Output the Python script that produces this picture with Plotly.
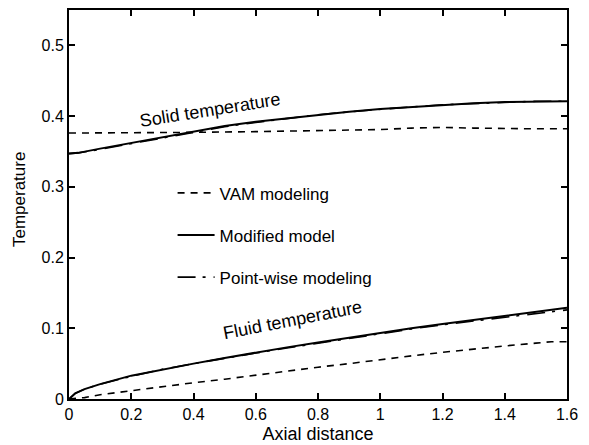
import plotly.graph_objects as go

# ---- data ----
x_mod_solid = [0, 0.03, 0.1, 0.2, 0.3, 0.4, 0.5, 0.6, 0.7, 0.8, 0.9, 1.0, 1.1, 1.2, 1.3, 1.4, 1.5, 1.6]
y_mod_solid = [0.347, 0.348, 0.354, 0.362, 0.370, 0.378, 0.386, 0.392, 0.397, 0.402, 0.406, 0.410,
               0.413, 0.416, 0.418, 0.420, 0.421, 0.421]
y_pw_solid = [0.347, 0.348, 0.353, 0.361, 0.370, 0.378, 0.385, 0.391, 0.397, 0.402, 0.406, 0.410,
              0.413, 0.416, 0.418, 0.420, 0.421, 0.421]

x_vam_solid = [0, 0.2, 0.4, 0.6, 0.8, 1.0, 1.1, 1.2, 1.3, 1.4, 1.5, 1.6]
y_vam_solid = [0.376, 0.376, 0.377, 0.378, 0.379, 0.381, 0.383, 0.384, 0.383, 0.382, 0.382, 0.382]

x_fluid = [0, 0.02, 0.05, 0.1, 0.2, 0.3, 0.4, 0.5, 0.6, 0.7, 0.8, 0.9, 1.0, 1.1, 1.2, 1.3, 1.4, 1.5, 1.6]
y_mod_fluid = [0, 0.008, 0.014, 0.021, 0.033, 0.042, 0.050, 0.058, 0.066, 0.073, 0.080, 0.087,
               0.094, 0.100, 0.106, 0.112, 0.118, 0.124, 0.129]
y_pw_fluid = [0, 0.008, 0.014, 0.021, 0.032, 0.042, 0.050, 0.058, 0.065, 0.072, 0.079, 0.086,
              0.093, 0.099, 0.105, 0.110, 0.116, 0.121, 0.126]

x_vam_fluid = [0, 0.05, 0.1, 0.2, 0.3, 0.4, 0.5, 0.6, 0.7, 0.8, 0.9, 1.0, 1.1, 1.2, 1.3, 1.4, 1.5, 1.55, 1.6]
y_vam_fluid = [0, 0.002, 0.006, 0.012, 0.018, 0.023, 0.028, 0.034, 0.040, 0.045, 0.050, 0.056,
               0.061, 0.066, 0.071, 0.075, 0.079, 0.081, 0.081]

x_ticks = [0, 0.2, 0.4, 0.6, 0.8, 1.0, 1.2, 1.4, 1.6]
x_tick_labels = ["0", "0.2", "0.4", "0.6", "0.8", "1", "1.2", "1.4", "1.6"]
y_ticks = [0, 0.1, 0.2, 0.3, 0.4, 0.5]
y_tick_labels = ["0", "0.1", "0.2", "0.3", "0.4", "0.5"]

FONT = "Arial, Liberation Sans, Helvetica, sans-serif"
VAM_DASH = "7px,6px"
PW_DASH = "18px,7px,3px,8px"

fig = go.Figure()

# VAM modeling
fig.add_trace(go.Scatter(x=x_vam_solid, y=y_vam_solid, mode="lines", name="VAM modeling",
                         legendgroup="vam", line=dict(color="black", width=1.6, dash=VAM_DASH)))
fig.add_trace(go.Scatter(x=x_vam_fluid, y=y_vam_fluid, mode="lines", name="VAM modeling",
                         legendgroup="vam", showlegend=False,
                         line=dict(color="black", width=1.6, dash=VAM_DASH)))
# Modified model
fig.add_trace(go.Scatter(x=x_mod_solid, y=y_mod_solid, mode="lines", name="Modified model",
                         legendgroup="mod", line=dict(color="black", width=2)))
fig.add_trace(go.Scatter(x=x_fluid, y=y_mod_fluid, mode="lines", name="Modified model",
                         legendgroup="mod", showlegend=False, line=dict(color="black", width=2)))
# Point-wise modeling
fig.add_trace(go.Scatter(x=x_mod_solid, y=y_pw_solid, mode="lines", name="Point-wise modeling",
                         legendgroup="pw", line=dict(color="black", width=1.6, dash=PW_DASH)))
fig.add_trace(go.Scatter(x=x_fluid, y=y_pw_fluid, mode="lines", name="Point-wise modeling",
                         legendgroup="pw", showlegend=False,
                         line=dict(color="black", width=1.6, dash=PW_DASH)))

fig.add_annotation(x=0.453, y=0.409, xref="x", yref="y", text="Solid temperature", showarrow=False,
                   textangle=-9, font=dict(family=FONT, size=18, color="black"))
fig.add_annotation(x=0.717, y=0.112, xref="x", yref="y", text="Fluid temperature", showarrow=False,
                   textangle=-11, font=dict(family=FONT, size=18, color="black"))
# y-axis title as a rotated text annotation
fig.add_annotation(x=-0.098, y=0.512, xref="paper", yref="paper", text="Temperature",
                   showarrow=False, textangle=-90, xanchor="center", yanchor="middle",
                   font=dict(family=FONT, size=17, color="black"))

axis_common = dict(showgrid=False, zeroline=False, showline=True, linecolor="black", linewidth=2,
                   mirror="allticks", ticks="inside", ticklen=6, tickwidth=1.5, tickcolor="black",
                   automargin=False,
                   tickfont=dict(family=FONT, size=16, color="black"))

fig.update_xaxes(range=[0, 1.6], tickvals=x_ticks, ticktext=x_tick_labels,
                 title=dict(text="Axial distance", font=dict(family=FONT, size=18, color="black"),
                            standoff=5), **axis_common)
fig.update_yaxes(range=[0, 0.55], tickvals=y_ticks, ticktext=y_tick_labels, **axis_common)

# page body has an 8px margin, so the figure is offset by (8, 8)
fig.update_layout(
    width=581, height=437,
    margin=dict(l=61, r=22, t=2, b=46),
    plot_bgcolor="white", paper_bgcolor="white",
    legend=dict(x=0.208, y=0.575, xanchor="left", yanchor="top", bgcolor="rgba(0,0,0,0)",
                font=dict(family=FONT, size=17, color="black"), traceorder="grouped",
                tracegroupgap=17, itemwidth=37),
)

fig.write_html("out.html")
